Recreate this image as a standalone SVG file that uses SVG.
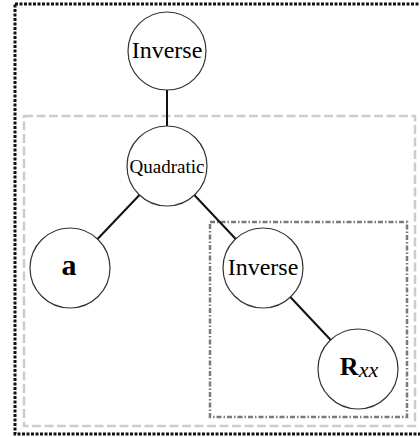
<svg xmlns="http://www.w3.org/2000/svg" width="420" height="437" viewBox="0 0 420 437">
<style>
.node{fill:#fff;stroke:#333;stroke-width:1.2}
.edge{stroke:#111;stroke-width:2;fill:none}
.lbl{font-family:"Liberation Serif","Times New Roman",serif;fill:#000;text-anchor:middle}
</style>
<rect width="420" height="437" fill="#fff"/>
<g id="frames" fill="none">
<rect x="15" y="4" width="420" height="430" stroke="#111" stroke-width="3" stroke-dasharray="3 1.5"/>
<rect x="24" y="116" width="391" height="310" stroke="#cccccc" stroke-width="2.5" stroke-dasharray="9 3.5"/>
<rect x="210" y="222" width="197" height="195" stroke="#7a7a7a" stroke-width="2.5" stroke-dasharray="5 2 1.5 2"/>
</g>
<g id="connectors">
<line class="edge" x1="167" y1="51" x2="167" y2="166"/>
<line class="edge" x1="167" y1="166" x2="70" y2="268"/>
<line class="edge" x1="167" y1="166" x2="263" y2="268"/>
<line class="edge" x1="263" y1="268" x2="358" y2="369"/>
</g>
<g id="inverse-top">
<circle class="node" cx="167" cy="51" r="39"/>
<text class="lbl" x="167" y="58" font-size="24">Inverse</text>
</g>
<g id="quadratic">
<circle class="node" cx="167" cy="166" r="40"/>
<text class="lbl" x="167" y="173" font-size="19">Quadratic</text>
</g>
<g id="a">
<circle class="node" cx="70" cy="268" r="40"/>
<text class="lbl" x="69" y="275" font-size="30" font-weight="bold">a</text>
</g>
<g id="inverse-inner">
<circle class="node" cx="263" cy="268" r="40"/>
<text class="lbl" x="263" y="275" font-size="24">Inverse</text>
</g>
<g id="rxx">
<circle class="node" cx="358" cy="369" r="40"/>
<text class="lbl" x="359" y="375"><tspan font-size="26" font-weight="bold">R</tspan><tspan font-size="22" font-style="italic" dy="2">xx</tspan></text>
</g>
</svg>
